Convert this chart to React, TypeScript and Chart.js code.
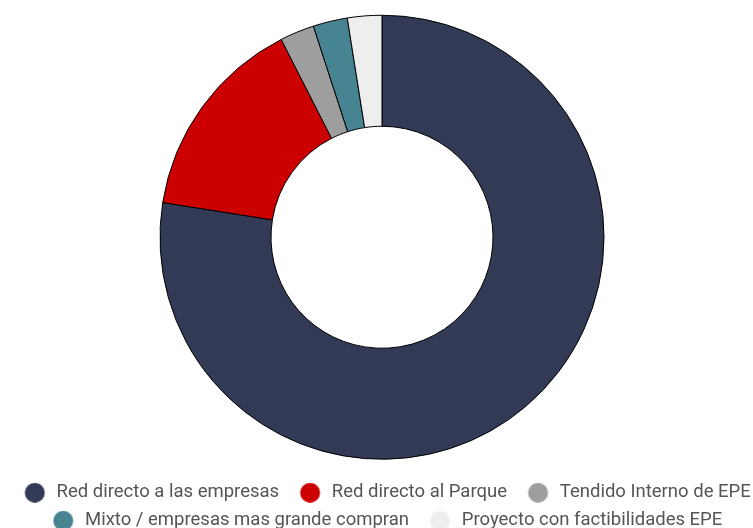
import React, { useEffect, useRef } from "react";
import { Chart, registerables } from "chart.js";

Chart.register(...registerables);

const categories = [
  "Red directo a las empresas",
  "Red directo al Parque",
  "Tendido Interno de EPE",
  "Mixto / empresas mas grande compran",
  "Proyecto con factibilidades EPE",
];
const values = [31, 6, 1, 1, 1];
const colors = ["#323A56", "#CC0000", "#9E9E9E", "#478491", "#EEEEEE"];

function makeDot(color: string, w: number, cx: number, d: number) {
  const c = document.createElement("canvas");
  c.width = w;
  c.height = d;
  const ctx = c.getContext("2d")!;
  ctx.fillStyle = color;
  ctx.beginPath();
  ctx.arc(cx, d / 2, d / 2, 0, Math.PI * 2);
  ctx.fill();
  return c;
}

export default function App() {
  const ref = useRef<HTMLCanvasElement | null>(null);
  useEffect(() => {
    if (!ref.current) return;
    const dots = colors.map((c) => makeDot(c, 34, 21.5, 20));
    const chart = new Chart(ref.current, {
      type: "doughnut",
      data: {
        labels: categories,
        datasets: [
          {
            data: values,
            backgroundColor: colors,
            borderColor: "#000000",
            borderWidth: 1,
            radius: 222,
          } as any,
        ],
      },
      options: {
        animation: false,
        responsive: true,
        maintainAspectRatio: false,
        cutout: "50%",
        layout: { padding: { top: 0.5, left: 0, right: 0, bottom: 0 } },
        plugins: {
          tooltip: { enabled: false },
          legend: {
            position: "bottom",
            labels: {
              usePointStyle: true,
              pointStyleWidth: 34,
              padding: 9.5,
              color: "#555555",
              font: { family: "Roboto", size: 18.5 },
              generateLabels: (chart: any) => {
                const items = (Chart as any).overrides.doughnut.plugins.legend.labels.generateLabels(chart);
                return items.map((it: any, i: number) => ({
                  ...it,
                  pointStyle: dots[i],
                  lineWidth: 0,
                  strokeStyle: "rgba(0,0,0,0)",
                }));
              },
            },
          },
        },
      },
    });
    return () => chart.destroy();
  }, []);
  return (
    <div style={{ position: "fixed", left: 0, top: 0, width: 764, height: 540 }}>
      <canvas ref={ref} />
    </div>
  );
}
